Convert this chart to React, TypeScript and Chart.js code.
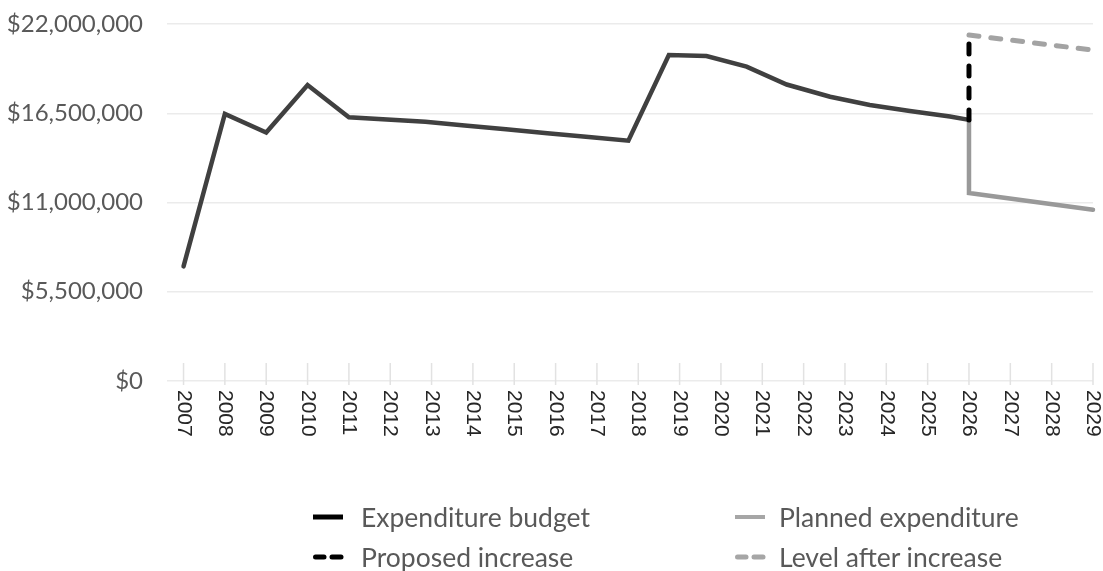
import React, { useEffect, useRef } from 'react';
import { Chart, registerables } from 'chart.js';

Chart.register(...registerables);

const YEAR_TICKS = [2007, 2008, 2009, 2010, 2011, 2012, 2013, 2014, 2015, 2016, 2017, 2018, 2019, 2020, 2021, 2022, 2023, 2024, 2025, 2026, 2027, 2028, 2029];
const Y_TICKS = [0, 5500000, 11000000, 16500000, 22000000];

const BUDGET_X = [2007, 2008, 2009, 2010, 2011, 2012.85, 2013.8, 2014.8, 2015.8, 2016.8, 2017.76, 2018.74, 2019.65, 2020.62, 2021.59, 2022.64, 2023.6, 2024.57, 2025.54, 2026];
const BUDGET_Y = [7060000, 16460000, 15310000, 18240000, 16250000, 15980000, 15750000, 15510000, 15270000, 15030000, 14810000, 20090000, 20030000, 19370000, 18270000, 17520000, 17010000, 16640000, 16300000, 16090000];

const PLANNED_X = [2026, 2026, 2029];
const PLANNED_Y = [16090000, 11580000, 10550000];

const INCREASE_X = [2026, 2026];
const INCREASE_Y = [16090000, 21320000];

const AFTER_X = [2026, 2029];
const AFTER_Y = [21320000, 20390000];

const SERIES_NAMES = ['Expenditure budget', 'Planned expenditure', 'Proposed increase', 'Level after increase'];

const toPoints = (xs: number[], ys: number[]) => xs.map((x, i) => ({ x, y: ys[i] }));

const xAxisPlugin = {
  id: 'xAxisYearLabels',
  afterDraw(chart: any) {
    const { ctx, scales } = chart;
    const xs = scales.x;
    const bottom = scales.y.getPixelForValue(0);
    ctx.save();
    ctx.strokeStyle = '#e2e2e2';
    ctx.lineWidth = 1.5;
    YEAR_TICKS.forEach((yr) => {
      const px = xs.getPixelForValue(yr);
      ctx.beginPath();
      ctx.moveTo(px, bottom - 18);
      ctx.lineTo(px, bottom + 4);
      ctx.stroke();
    });
    ctx.fillStyle = '#262626';
    ctx.font = '21px "Liberation Sans", Arial, sans-serif';
    ctx.textAlign = 'left';
    ctx.textBaseline = 'middle';
    YEAR_TICKS.forEach((yr) => {
      const px = xs.getPixelForValue(yr);
      ctx.save();
      ctx.translate(px, bottom + 9);
      ctx.rotate(Math.PI / 2);
      ctx.fillText(String(yr), 0, 0);
      ctx.restore();
    });
    ctx.restore();
  },
};

function LegendMarker({ color, dashed, width }: { color: string; dashed: boolean; width: number }) {
  return (
    <svg width={32} height={10} style={{ display: 'block' }}>
      {dashed ? (
        <>
          <line x1={2.5} y1={5} x2={11} y2={5} stroke={color} strokeWidth={width} strokeLinecap="round" />
          <line x1={19} y1={5} x2={28} y2={5} stroke={color} strokeWidth={width} strokeLinecap="round" />
        </>
      ) : (
        <line x1={0} y1={5} x2={30} y2={5} stroke={color} strokeWidth={width} />
      )}
    </svg>
  );
}

const LEGEND_ITEMS = [
  { name: SERIES_NAMES[0], color: '#000000', dashed: false, width: 5, left: 313, cy: 517, gap: 16 },
  { name: SERIES_NAMES[1], color: '#a6a6a6', dashed: false, width: 4, left: 735, cy: 517, gap: 12 },
  { name: SERIES_NAMES[2], color: '#000000', dashed: true, width: 5, left: 313, cy: 557, gap: 16 },
  { name: SERIES_NAMES[3], color: '#a6a6a6', dashed: true, width: 5, left: 735, cy: 557, gap: 12 },
];

export default function App() {
  const canvasRef = useRef<HTMLCanvasElement | null>(null);

  useEffect(() => {
    if (!canvasRef.current) return;
    const chart = new Chart(canvasRef.current, {
      type: 'line',
      data: {
        datasets: [
          {
            label: SERIES_NAMES[2],
            data: toPoints(INCREASE_X, INCREASE_Y),
            borderColor: '#000000',
            borderWidth: 5,
            borderDash: [10, 12],
            borderCapStyle: 'round',
            order: 0,
            clip: false,
          },
          {
            label: SERIES_NAMES[0],
            data: toPoints(BUDGET_X, BUDGET_Y),
            borderColor: '#404040',
            borderWidth: 4.5,
            borderCapStyle: 'round',
            order: 1,
            clip: false,
          },
          {
            label: SERIES_NAMES[3],
            data: toPoints(AFTER_X, AFTER_Y),
            borderColor: '#a3a3a3',
            borderWidth: 5,
            borderDash: [10, 12],
            borderCapStyle: 'round',
            order: 2,
            clip: false,
          },
          {
            label: SERIES_NAMES[1],
            data: toPoints(PLANNED_X, PLANNED_Y),
            borderColor: '#999999',
            borderWidth: 4.5,
            borderCapStyle: 'round',
            order: 3,
            clip: false,
          },
        ] as any,
      },
      options: {
        animation: false,
        responsive: false,
        layout: { padding: { left: 0, right: 10, top: 24, bottom: 190 } },
        plugins: { legend: { display: false }, tooltip: { enabled: false } },
        elements: { point: { radius: 0 }, line: { tension: 0 } },
        scales: {
          x: { type: 'linear', display: false, min: 2006.6, max: 2029 },
          y: {
            min: 0,
            max: 22000000,
            afterBuildTicks: (s: any) => {
              s.ticks = Y_TICKS.map((v) => ({ value: v }));
            },
            afterFit: (s: any) => {
              s.width = 167;
            },
            ticks: {
              padding: 0,
              color: '#595959',
              font: { family: 'Lato, "Noto Sans", sans-serif', size: 24 },
              callback: (v: any) => '$' + Number(v).toLocaleString('en-US'),
            },
            grid: { color: '#ebebeb', lineWidth: 1.5, drawTicks: true, tickLength: 24, tickColor: 'rgba(0,0,0,0)' },
            border: { display: false },
          },
        },
      } as any,
      plugins: [xAxisPlugin],
    });
    return () => chart.destroy();
  }, []);

  return (
    <div style={{ position: 'fixed', left: 0, top: 0, width: 1103, height: 571, background: '#ffffff', overflow: 'hidden' }}>
      <canvas ref={canvasRef} width={1103} height={571} style={{ width: 1103, height: 571, display: 'block' }} />
      {LEGEND_ITEMS.map((it) => (
        <div
          key={it.name}
          style={{
            position: 'absolute',
            left: it.left,
            top: it.cy - 16,
            height: 32,
            display: 'flex',
            alignItems: 'center',
            whiteSpace: 'nowrap',
          }}
        >
          <LegendMarker color={it.color} dashed={it.dashed} width={it.width} />
          <span
            style={{
              marginLeft: it.gap,
              fontFamily: 'Lato, "Noto Sans", sans-serif',
              fontSize: 26.5,
              color: '#595959',
              lineHeight: '32px',
            }}
          >
            {it.name}
          </span>
        </div>
      ))}
    </div>
  );
}
